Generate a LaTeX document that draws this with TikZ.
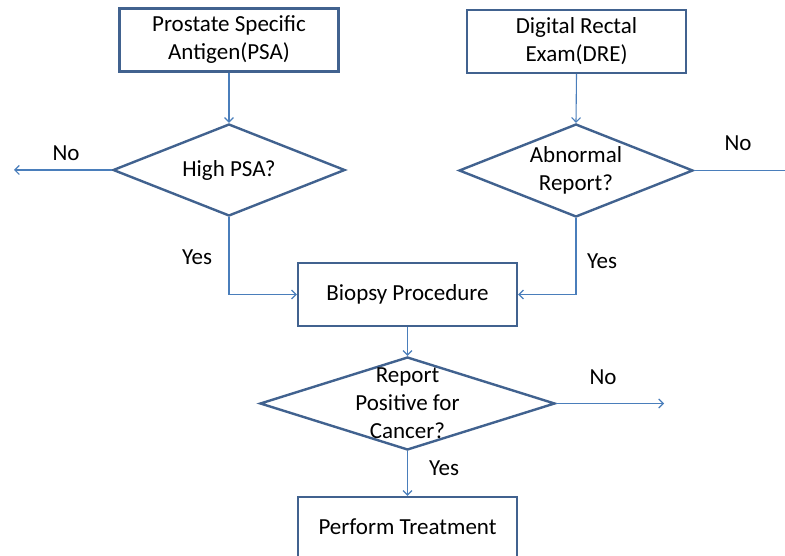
\documentclass[tikz,border=0pt]{standalone}
\usepackage{fontspec}
\setmainfont{Carlito}
\usetikzlibrary{shapes.geometric,arrows.meta}
\definecolor{boxline}{HTML}{41628F}
\definecolor{conn}{HTML}{4A7EBB}
\begin{document}
\begin{tikzpicture}[x=1pt,y=-1pt,
  every node/.style={font=\fontsize{23}{28}\selectfont, text=black},
  procbox/.style={draw=boxline, line width=2.4pt, rectangle, minimum width=219pt, minimum height=63pt, align=center, inner sep=0pt},
  decision/.style={draw=boxline, line width=2.4pt, diamond, inner sep=0pt},
  conline/.style={draw=conn, line width=1.1pt},
  arr/.style={conline, -{Straight Barb[length=4.5pt,width=9pt]}},
  lbl/.style={inner sep=0pt}
]
\useasboundingbox (0,0) rectangle (785,556);
\clip (0,0) rectangle (785,556);
\fill[white] (0,0) rectangle (785,556);

\node[procbox] (psa) at (229,40) {Prostate Specific\\Antigen(PSA)};
\node[procbox] (dre) at (576.5,41.5) {Digital Rectal\\Exam(DRE)};
\node[decision, minimum width=232pt, minimum height=92pt,
  label={[align=center, font=\fontsize{23}{28}\selectfont]center:High PSA?}] (high) at (229,170) {};
\node[decision, minimum width=234pt, minimum height=93pt,
  label={[align=center, font=\fontsize{23}{28}\selectfont]center:Abnormal\\Report?}] (abn) at (576,170.5) {};
\node[procbox] (biopsy) at (407.5,294.5) {Biopsy Procedure};
\node[decision, minimum width=295pt, minimum height=93pt,
  label={[align=center, font=\fontsize{23}{28}\selectfont]center:Report\\Positive for\\Cancer?}] (report) at (407.5,403.5) {};
\node[procbox, minimum height=63pt] (treat) at (407.5,528.5) {};
\node at (407.5,527) {Perform Treatment};

\coordinate (noleft) at (14,170);
\coordinate (noright) at (795,170.5);
\coordinate (nobottom) at (664,403.5);

\draw[arr] (psa.south) -- (high.north);
\draw[arr] (dre.south) -- (abn.north);
\draw[arr] (high.west) -- (noleft);
\draw[conline] (abn.east) -- (noright);
\draw[arr] (high.south) |- (biopsy.west);
\draw[arr] (abn.south) |- (biopsy.east);
\draw[arr] (biopsy.south) -- (report.north);
\draw[arr] (report.east) -- (nobottom);
\draw[arr] (report.south) -- (treat.north);

\node[lbl] (l1) at (66,153) {No};
\node[lbl] (l2) at (738,143) {No};
\node[lbl] (l3) at (197,257) {Yes};
\node[lbl] (l4) at (602,261) {Yes};
\node[lbl] (l5) at (603,377) {No};
\node[lbl] (l6) at (444,468) {Yes};
\end{tikzpicture}
\end{document}
